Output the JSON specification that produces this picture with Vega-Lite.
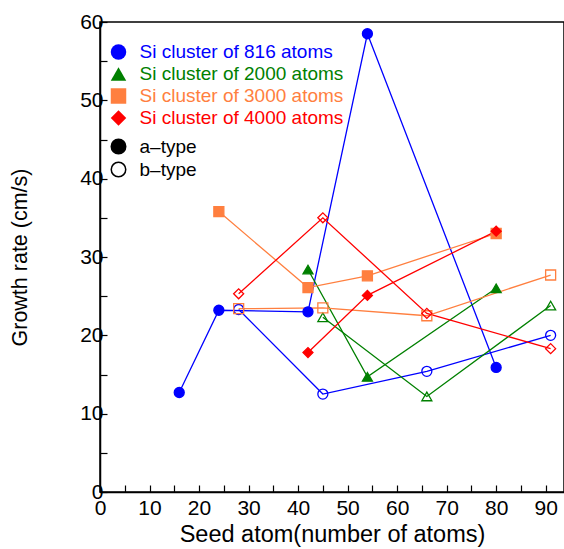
{
  "$schema": "https://vega.github.io/schema/vega-lite/v6.json",
  "width": 464,
  "height": 470,
  "autosize": {"type": "none"},
  "padding": {"left": 100, "top": 22, "right": 0, "bottom": 57},
  "background": "white",
  "config": {
    "font": "Liberation Sans",
    "view": {"stroke": "black", "strokeWidth": 1.5},
    "axis": {
      "domainColor": "black",
      "domainWidth": 1.5,
      "tickColor": "black",
      "tickWidth": 1.2,
      "tickSize": -7,
      "labelColor": "black",
      "titleColor": "black",
      "labelFontSize": 21,
      "titleFontSize": 22,
      "titleFontWeight": "normal",
      "grid": false
    }
  },
  "data": {
    "values": [
      {"series": "Si cluster of 816 atoms", "type": "a–type", "x": 16, "y": 12.7},
      {"series": "Si cluster of 816 atoms", "type": "a–type", "x": 24, "y": 23.2},
      {"series": "Si cluster of 816 atoms", "type": "a–type", "x": 42, "y": 23.0},
      {"series": "Si cluster of 816 atoms", "type": "a–type", "x": 54, "y": 58.5},
      {"series": "Si cluster of 816 atoms", "type": "a–type", "x": 80, "y": 15.9},
      {"series": "Si cluster of 816 atoms", "type": "b–type", "x": 28, "y": 23.3},
      {"series": "Si cluster of 816 atoms", "type": "b–type", "x": 45, "y": 12.5},
      {"series": "Si cluster of 816 atoms", "type": "b–type", "x": 66, "y": 15.4},
      {"series": "Si cluster of 816 atoms", "type": "b–type", "x": 91, "y": 20.0},
      {"series": "Si cluster of 2000 atoms", "type": "a–type", "x": 42, "y": 28.4},
      {"series": "Si cluster of 2000 atoms", "type": "a–type", "x": 54, "y": 14.7},
      {"series": "Si cluster of 2000 atoms", "type": "a–type", "x": 80, "y": 26.0},
      {"series": "Si cluster of 2000 atoms", "type": "b–type", "x": 45, "y": 22.3},
      {"series": "Si cluster of 2000 atoms", "type": "b–type", "x": 66, "y": 12.2},
      {"series": "Si cluster of 2000 atoms", "type": "b–type", "x": 91, "y": 23.8},
      {"series": "Si cluster of 3000 atoms", "type": "a–type", "x": 24, "y": 35.8},
      {"series": "Si cluster of 3000 atoms", "type": "a–type", "x": 42, "y": 26.1},
      {"series": "Si cluster of 3000 atoms", "type": "a–type", "x": 54, "y": 27.6},
      {"series": "Si cluster of 3000 atoms", "type": "a–type", "x": 80, "y": 33.0},
      {"series": "Si cluster of 3000 atoms", "type": "b–type", "x": 28, "y": 23.4},
      {"series": "Si cluster of 3000 atoms", "type": "b–type", "x": 45, "y": 23.5},
      {"series": "Si cluster of 3000 atoms", "type": "b–type", "x": 66, "y": 22.5},
      {"series": "Si cluster of 3000 atoms", "type": "b–type", "x": 91, "y": 27.7},
      {"series": "Si cluster of 4000 atoms", "type": "a–type", "x": 42, "y": 17.8},
      {"series": "Si cluster of 4000 atoms", "type": "a–type", "x": 54, "y": 25.1},
      {"series": "Si cluster of 4000 atoms", "type": "a–type", "x": 80, "y": 33.3},
      {"series": "Si cluster of 4000 atoms", "type": "b–type", "x": 28, "y": 25.3},
      {"series": "Si cluster of 4000 atoms", "type": "b–type", "x": 45, "y": 35.0},
      {"series": "Si cluster of 4000 atoms", "type": "b–type", "x": 66, "y": 22.8},
      {"series": "Si cluster of 4000 atoms", "type": "b–type", "x": 91, "y": 18.3}
    ]
  },
  "encoding": {
    "x": {
      "field": "x", "type": "quantitative",
      "scale": {"domain": [0, 93.7], "nice": false, "zero": false},
      "axis": {
        "orient": "bottom",
        "title": "Seed atom(number of atoms)",
        "titleFontSize": 23.5,
        "values": [0,5,10,15,20,25,30,35,40,45,50,55,60,65,70,75,80,85,90],
        "labelExpr": "datum.value % 10 === 0 ? datum.label : ''",
        "labelPadding": 12,
        "labelFlush": false,
        "titlePadding": 4
      }
    },
    "y": {
      "field": "y", "type": "quantitative",
      "scale": {"domain": [0, 60], "nice": false},
      "axis": {
        "orient": "left",
        "title": "Growth rate (cm/s)",
        "titleFontSize": 21.5,
        "values": [0,5,10,15,20,25,30,35,40,45,50,55,60],
        "labelExpr": "datum.value % 10 === 0 ? datum.label : ''",
        "labelPadding": 4,
        "labelFlush": false,
        "titlePadding": 48
      }
    }
  },
  "layer": [
    {
      "mark": {"type": "point", "filled": true, "size": 8, "strokeWidth": 0, "opacity": 1},
      "encoding": {
        "fill": {
          "field": "type", "type": "nominal",
          "scale": {"domain": ["a–type", "b–type"], "range": ["black", "white"]},
          "legend": {
            "title": null,
            "orient": "none",
            "legendX": 9,
            "legendY": 115,
            "labelFontSize": 19,
            "labelColor": "black",
            "symbolType": "circle",
            "symbolSize": 210,
            "symbolStrokeColor": "black",
            "symbolStrokeWidth": 1.5,
            "labelOffset": 11.5,
            "rowPadding": 2,
            "encode": {
              "symbols": {"update": {"stroke": {"value": "black"}, "strokeWidth": {"value": 1.5}, "opacity": {"value": 1}}}
            }
          }
        }
      }
    },
    {
      "mark": {"type": "line", "strokeWidth": 1.3},
      "encoding": {
        "color": {
          "field": "series", "type": "nominal",
          "scale": {
            "domain": ["Si cluster of 816 atoms", "Si cluster of 2000 atoms", "Si cluster of 3000 atoms", "Si cluster of 4000 atoms"],
            "range": ["#0000ff", "#008000", "#ff7f3f", "#ff0000"]
          },
          "legend": {
            "title": null,
            "orient": "none",
            "legendX": 9,
            "legendY": 20.5,
            "labelFontSize": 19,
            "symbolSize": 240,
            "symbolStrokeWidth": 0,
            "labelOffset": 11.5,
            "rowPadding": 2,
            "labelLimit": 400,
            "encode": {
              "labels": {"update": {"fill": {"signal": "scale('color', datum.value)"}}}
            }
          }
        },
        "detail": {"field": "type"},
        "order": {"field": "x", "type": "quantitative"}
      }
    },
    {
      "mark": {"type": "point", "filled": true, "strokeWidth": 1.3, "size": 100, "opacity": 1},
      "encoding": {
        "color": {"field": "series", "type": "nominal"},
        "stroke": {
          "field": "series", "type": "nominal",
          "scale": {
            "domain": ["Si cluster of 816 atoms", "Si cluster of 2000 atoms", "Si cluster of 3000 atoms", "Si cluster of 4000 atoms"],
            "range": ["#0000ff", "#008000", "#ff7f3f", "#ff0000"]
          }
        },
        "shape": {
          "field": "series", "type": "nominal",
          "scale": {
            "domain": ["Si cluster of 816 atoms", "Si cluster of 2000 atoms", "Si cluster of 3000 atoms", "Si cluster of 4000 atoms"],
            "range": ["circle", "triangle-up", "square", "diamond"]
          }
        },
        "fillOpacity": {
          "field": "type", "type": "nominal",
          "scale": {"domain": ["a–type", "b–type"], "range": [1, 0]},
          "legend": null
        }
      }
    }
  ]
}
